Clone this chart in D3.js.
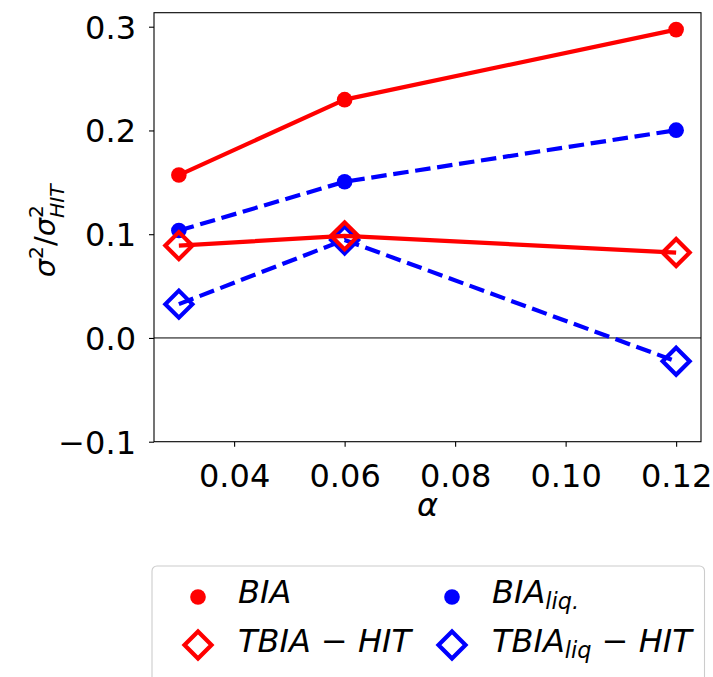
<!DOCTYPE html>
<html>
<head>
<meta charset="utf-8">
<script src="https://cdn.jsdelivr.net/npm/d3@7"></script>
<style>
  html, body { margin: 0; padding: 0; background: #fff; }
  text { font-family: "DejaVu Sans", sans-serif; fill: #000; }
</style>
</head>
<body>
<svg id="chart" width="713" height="677"></svg>
<script>
// ---- data ----
const alphas = [0.03, 0.06, 0.12];
const BIA = [0.157, 0.2297, 0.2972];
const BIA_liq = [0.1035, 0.1506, 0.2003];
const TBIA_HIT = [0.089, 0.0984, 0.0823];
const TBIA_liq_HIT = [0.0326, 0.0945, -0.0225];
const xTicks = [0.04, 0.06, 0.08, 0.10, 0.12];
const yTicks = [-0.1, 0.0, 0.1, 0.2, 0.3];

const svg = d3.select('#chart');
const L = 154, R = 701, T = 12.7, B = 441.7;
const x = d3.scaleLinear().domain([0.0255, 0.1245]).range([L, R]);
const y = d3.scaleLinear().domain([-0.1, 0.3135]).range([B, T]);
const FS = 32;
const RED = '#ff0000', BLUE = '#0000ff';

// zero line
svg.append('line').attr('x1', L).attr('x2', R).attr('y1', y(0)).attr('y2', y(0))
  .attr('stroke', '#000').attr('stroke-width', 1);

// axes
const xAxis = d3.axisBottom(x).tickValues(xTicks).tickFormat(d3.format('.2f')).tickSizeOuter(0).tickSize(5).tickPadding(6);
const gx = svg.append('g').attr('transform', `translate(0,${B})`).call(xAxis);
const yAxis = d3.axisLeft(y).tickValues(yTicks).tickFormat(d => d3.format('.1f')(d).replace('-', '−')).tickSizeOuter(0).tickSize(5).tickPadding(13);
const gy = svg.append('g').attr('transform', `translate(${L},0)`).call(yAxis);
[gx, gy].forEach(g => {
  g.selectAll('.domain').remove();
  g.selectAll('line').attr('stroke', '#000').attr('stroke-width', 1.1);
  g.selectAll('text').attr('font-size', FS).attr('font-family', '"DejaVu Sans", sans-serif').attr('fill', '#000');
});
gx.selectAll('text').attr('dy', null).attr('y', 45).attr('dominant-baseline', 'auto');
gy.selectAll('text').attr('dy', '0.36em');

// frame
svg.append('rect').attr('x', L).attr('y', T).attr('width', R - L).attr('height', B - T)
  .attr('fill', 'none').attr('stroke', '#000').attr('stroke-width', 1.1);

// series
const series = [
  {vals: BIA_liq, color: BLUE, dash: '15.5,6.7', marker: 'circle'},
  {vals: TBIA_liq_HIT, color: BLUE, dash: '15.5,6.7', marker: 'diamond'},
  {vals: BIA, color: RED, dash: null, marker: 'circle'},
  {vals: TBIA_HIT, color: RED, dash: null, marker: 'diamond'}
];
const line = d3.line().x((d, i) => x(alphas[i])).y(d => y(d));
const diamondPath = (cx, cy, h) => `M${cx},${cy - h}L${cx + h},${cy}L${cx},${cy + h}L${cx - h},${cy}Z`;
function drawMarker(g, type, cx, cy, color) {
  if (type === 'circle') {
    g.append('circle').attr('cx', cx).attr('cy', cy).attr('r', 7.8).attr('fill', color);
  } else {
    g.append('path').attr('d', diamondPath(cx, cy, 13.5)).attr('fill', 'none')
      .attr('stroke', color).attr('stroke-width', 4.2).attr('stroke-linejoin', 'miter');
  }
}
series.forEach(s => {
  const g = svg.append('g');
  g.append('path').attr('d', line(s.vals)).attr('fill', 'none').attr('stroke', s.color)
    .attr('stroke-width', 4.2).attr('stroke-dasharray', s.dash).attr('stroke-linejoin', 'round');
  s.vals.forEach((v, i) => drawMarker(g, s.marker, x(alphas[i]), y(v), s.color));
});

// math-like label helper
function mathLabel(parent, parts, size) {
  const g = parent.append('g');
  let cx = 0, prevStart = 0;
  parts.forEach(p => {
    const fs = p.script ? size * 0.7 : size;
    const dy = p.script === 'sup' ? -size * 0.42 : (p.script === 'sub' ? size * (p.deep ? 0.3 : 0.2) : 0);
    const startX = p.stack ? prevStart : cx;
    const t = g.append('text').attr('x', startX).attr('y', dy).attr('font-size', fs)
      .attr('font-style', p.it ? 'italic' : 'normal').attr('xml:space', 'preserve').text(p.t);
    const w = t.node().getComputedTextLength();
    prevStart = startX;
    cx = Math.max(cx, startX + w);
  });
  return g;
}

// x label
const xl = mathLabel(svg, [{t: 'α', it: true}], FS);
{
  const bb = xl.node().getBBox();
  xl.attr('transform', `translate(${427.5 - bb.width / 2 - bb.x},${516})`);
}

// y label
const ylOuter = svg.append('g');
const yl = mathLabel(ylOuter, [
  {t: 'σ', it: true}, {t: '2', script: 'sup'}, {t: '/'}, {t: 'σ', it: true},
  {t: '2', script: 'sup'}, {t: 'HIT', it: true, script: 'sub', stack: true, deep: true}
], 29);
{
  const bb = yl.node().getBBox();
  yl.attr('transform', `translate(${-bb.width / 2 - bb.x},0)`);
  ylOuter.attr('transform', `translate(55,230) rotate(-90)`);
}

// legend
const lg = svg.append('g');
lg.append('rect').attr('x', 152).attr('y', 566).attr('width', 552.5).attr('height', 130).attr('rx', 5)
  .attr('fill', '#fff').attr('fill-opacity', 0.8).attr('stroke', '#cccccc').attr('stroke-width', 1.1);
const legendItems = [
  {mx: 198, my: 597, tx: 238, ty: 603, marker: 'circle', color: RED, parts: [{t: 'BIA', it: true}]},
  {mx: 452, my: 597, tx: 492, ty: 603, marker: 'circle', color: BLUE, parts: [{t: 'BIA', it: true}, {t: 'liq.', it: true, script: 'sub'}]},
  {mx: 198, my: 645, tx: 238, ty: 652, marker: 'diamond', color: RED, parts: [{t: 'TBIA', it: true}, {t: ' − '}, {t: 'HIT', it: true}]},
  {mx: 452, my: 645, tx: 492, ty: 652, marker: 'diamond', color: BLUE, parts: [{t: 'TBIA', it: true}, {t: 'liq', it: true, script: 'sub'}, {t: ' − '}, {t: 'HIT', it: true}]}
];
legendItems.forEach(it => {
  drawMarker(lg, it.marker, it.mx, it.my, it.color);
  const t = mathLabel(lg, it.parts, FS);
  t.attr('transform', `translate(${it.tx},${it.ty})`);
});
</script>
</body>
</html>
